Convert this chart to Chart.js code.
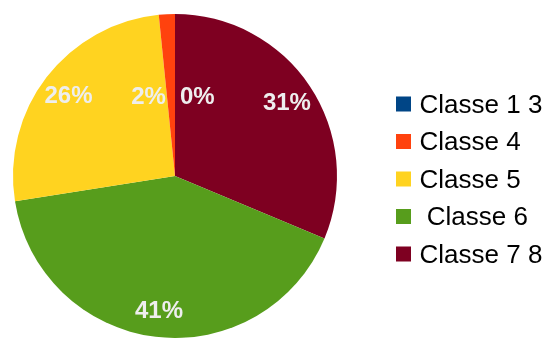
<!DOCTYPE html>
<html>
<head>
<meta charset="utf-8">
<script src="https://cdn.jsdelivr.net/npm/chart.js@4/dist/chart.umd.min.js"></script>
<style>
  html, body { margin: 0; padding: 0; background: #fff; }
  canvas { display: block; }
</style>
</head>
<body>
<canvas id="grafico-classes" width="546" height="338"></canvas>
<script>
var classes = ["Classe 1 3", "Classe 4", "Classe 5", " Classe 6", "Classe 7 8"];
var shares = [0, 1.6, 25.9, 41.2, 31.3];
var colours = ["#004586", "#ff420e", "#ffd320", "#579d1c", "#7e0021"];

// pie runs counter-clockwise from the top, so feed Chart.js the reversed order
var pieLabels = classes.slice().reverse();
var pieData = shares.slice().reverse();
var pieColours = colours.slice().reverse();

var total = shares.reduce(function (a, b) { return a + b; }, 0);

// percentage labels inside the slices
var sliceLabels = {
    id: 'sliceLabels',
    afterDatasetsDraw: function (chart) {
        var ctx = chart.ctx;
        var meta = chart.getDatasetMeta(0);
        ctx.save();
        ctx.font = 'bold 24px "Liberation Sans", Arial, sans-serif';
        ctx.fillStyle = '#eeeeee';
        ctx.textBaseline = 'alphabetic';
        meta.data.forEach(function (arc, i) {
            var p = arc.getProps(['x', 'y', 'startAngle', 'endAngle', 'outerRadius'], true);
            var value = pieData[i];
            var pct = value / total * 100;
            var text = Math.round(pct) + '%';
            var mid = (p.startAngle + p.endAngle) / 2;
            var fromTop = mid + Math.PI / 2;
            if (fromTop >= 2 * Math.PI - 1e-6) fromTop -= 2 * Math.PI;
            var r, tx, ty;
            if (pct >= 5) {
                r = p.outerRadius * 0.83;
                tx = p.x + Math.cos(mid) * r;
                ty = p.y + Math.sin(mid) * r;
                ctx.textAlign = 'center';
            } else {
                r = p.outerRadius * 0.5;
                tx = p.x + Math.cos(mid) * r;
                ty = p.y + Math.sin(mid) * r;
                if (fromTop < Math.PI) {
                    ctx.textAlign = 'left';
                    tx += 5;
                } else {
                    ctx.textAlign = 'right';
                    tx -= 5;
                }
            }
            ctx.fillText(text, tx, ty + 8.6);
        });
        ctx.restore();
    }
};

// legend on the right, in the original class order
var sideLegend = {
    id: 'sideLegend',
    afterDraw: function (chart) {
        var ctx = chart.ctx;
        ctx.save();
        ctx.font = '26px "Liberation Sans", Arial, sans-serif';
        ctx.textAlign = 'left';
        ctx.textBaseline = 'alphabetic';
        classes.forEach(function (name, i) {
            var cy = 104 + i * 37.5;
            ctx.fillStyle = colours[i];
            ctx.fillRect(396, cy - 7.5, 15, 15);
            ctx.fillStyle = '#000000';
            ctx.fillText(name, 419.5, cy + 8.8);
        });
        ctx.restore();
    }
};

var ctx = document.getElementById("grafico-classes");

var myPieChart = new Chart(ctx, {
    type: 'pie',
    data: {
        labels: pieLabels,
        datasets: [{
            data: pieData,
            backgroundColor: pieColours,
            borderWidth: 0
        }]
    },
    options: {
        responsive: false,
        animation: false,
        devicePixelRatio: 1,
        layout: {
            padding: { left: 13, right: 209, top: 14, bottom: 0 }
        },
        plugins: {
            legend: { display: false },
            tooltip: { enabled: false }
        }
    },
    plugins: [sliceLabels, sideLegend]
});
</script>
</body>
</html>
